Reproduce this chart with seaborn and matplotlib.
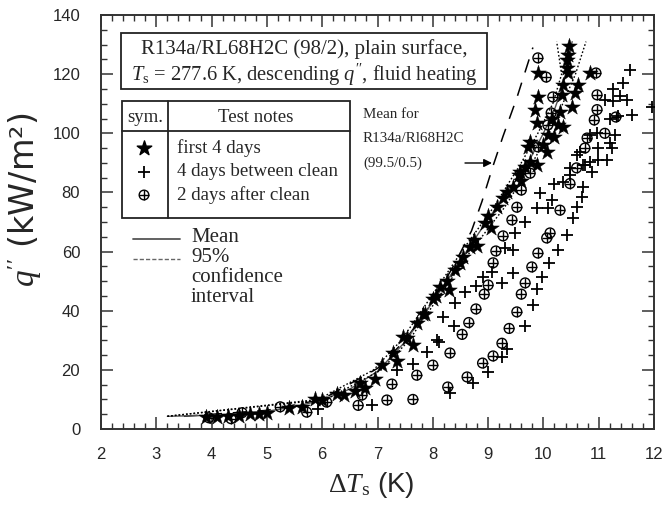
import numpy as np
import pandas as pd
import matplotlib
matplotlib.use("Agg")
import matplotlib.pyplot as plt
import seaborn as sns
from matplotlib.ticker import MultipleLocator

# ---------------- data ----------------
star_x = [3.9, 4.1, 4.3, 4.5, 4.7, 4.85, 5.0, 5.4, 5.63, 5.87, 6.0, 6.27, 6.4, 6.6, 6.68, 6.78,
          6.95, 7.08, 7.28, 7.35, 7.53, 7.65, 7.71, 7.86, 8.0,
          7.46, 7.82, 8.13, 8.4, 8.67, 8.94, 9.16, 9.27, 9.45, 9.67, 9.72,
          8.05, 8.25, 8.3, 8.5, 8.55, 8.75, 8.8, 9.0, 9.05, 9.35, 9.55, 9.6,
          10.46, 10.43, 10.43, 10.45, 10.36, 10.63, 10.57, 9.9, 9.9, 9.85, 9.88, 10.34,
          10.52, 10.3, 10.26, 10.36, 10.84, 9.76, 10.08, 10.2, 10.06, 9.76, 9.88, 9.58,
          10.0, 10.15, 10.45]
star_y = [4.0, 4.0, 4.5, 4.5, 5.0, 5.0, 5.5, 7.0, 7.5, 10.0, 9.7, 12.0, 11.5, 13.0, 15.5, 14.0,
          17.0, 21.6, 25.6, 23.0, 30.8, 28.5, 35.8, 39.0, 44.0,
          31.0, 39.0, 48.0, 53.8, 61.5, 69.7, 75.0, 78.0, 82.0, 88.6, 95.4,
          45.0, 50.0, 47.0, 56.0, 58.0, 64.0, 62.0, 72.0, 68.0, 80.0, 86.0, 84.0,
          129.5, 124.8, 122.0, 120.4, 116.3, 116.3, 113.6, 120.4, 112.3, 108.0, 103.5, 113.0,
          109.0, 107.2, 102.8, 102.0, 120.4, 97.0, 99.4, 98.7, 93.6, 90.3, 89.3, 87.0,
          96.0, 105.0, 126.5]

plus_x = [5.93, 6.9,
          7.35, 7.64, 7.9, 8.07, 8.11, 8.18, 8.38, 8.4, 8.58, 8.78, 8.9, 9.07, 9.25, 9.45,
          9.3, 9.45, 9.49, 9.67, 9.88, 10.08, 9.94, 10.15, 10.2, 10.35, 10.48, 10.48,
          8.31, 8.72, 9.0, 9.26, 9.35, 9.67, 9.81, 9.88, 9.97, 10.1, 10.26, 10.42, 10.53,
          10.6, 10.7, 10.72, 10.6, 10.72, 10.84, 10.99, 10.66, 10.97, 10.84, 10.75, 10.88,
          11.15, 10.99, 11.24, 11.2, 11.29, 11.11, 11.2, 11.35, 11.6, 11.51, 11.39, 11.26,
          11.26, 11.44, 11.57, 11.96]
plus_y = [6.8, 8.0,
          20.0, 22.0, 26.0, 30.0, 29.4, 37.9, 34.8, 42.6, 46.4, 48.4, 51.4, 53.1, 49.4, 52.7,
          61.2, 60.5, 66.3, 70.0, 74.7, 74.7, 79.8, 77.4, 83.0, 83.5, 86.0, 88.3,
          12.2, 15.6, 19.3, 24.4, 27.0, 35.0, 42.0, 47.3, 51.4, 56.0, 60.5, 65.6, 71.3,
          75.0, 78.5, 82.0, 92.7, 89.3, 90.3, 91.0, 93.7, 100.0, 99.4, 89.3, 87.0,
          91.0, 95.0, 95.0, 96.7, 99.4, 111.3, 105.0, 106.0, 106.2, 111.3, 112.6, 111.0,
          115.0, 117.0, 121.4, 108.9]

oplus_x = [3.95, 4.35, 4.55, 5.24, 5.72, 6.08, 6.65, 6.72, 7.17, 7.26, 7.64, 7.71, 8.0,
           8.27, 8.62, 8.9, 9.09, 9.25, 9.38, 9.52, 9.6, 9.67, 9.79, 9.9, 10.06, 10.12, 10.3,
           10.48, 10.6, 10.75, 10.79, 10.92, 10.97, 10.97, 10.95, 11.11, 11.31,
           8.31, 8.53, 8.65, 8.78, 8.93, 9.0, 9.09, 9.14, 9.27, 9.43, 9.52, 9.6, 9.76, 9.9,
           10.08, 10.14, 10.17, 10.05, 9.9]
oplus_y = [3.8, 3.5, 5.5, 7.5, 5.7, 9.1, 8.0, 11.5, 9.8, 15.2, 10.0, 18.2, 21.6,
           14.2, 17.6, 22.3, 24.7, 29.0, 34.0, 39.6, 45.6, 49.4, 54.8, 59.5, 64.6, 66.3, 74.0,
           83.0, 88.3, 95.0, 98.4, 104.5, 108.0, 113.0, 120.4, 100.0, 105.5,
           25.7, 32.0, 36.0, 40.6, 45.6, 48.7, 56.2, 60.2, 65.3, 70.7, 75.0, 80.8, 86.5, 95.4,
           102.8, 106.9, 112.3, 119.0, 125.5]

# mean curve and 95% confidence interval (parametrised by q'')
mean_x = [3.2, 4.0, 4.5, 5.0, 5.5, 6.0, 6.5, 7.0, 7.5, 8.0, 8.5, 9.0, 9.5, 9.75, 10.0, 10.2, 10.35, 10.45, 10.52]
mean_y = [4.3, 4.6, 5.2, 6.0, 7.5, 9.8, 13.5, 19.5, 29.5, 43.0, 57.0, 71.0, 84.0, 91.0, 100.0, 108.0, 116.0, 124.0, 131.0]
ci_q = [4.3, 10.0, 20.0, 30.0, 45.0, 60.0, 75.0, 90.0, 100.0, 110.0, 120.0, 131.0]
ci_lo_x = [3.2, 5.93, 6.93, 7.43, 7.98, 8.52, 9.1, 9.6, 9.9, 10.17, 10.33, 10.24]
ci_hi_x = [3.2, 6.07, 7.07, 7.57, 8.12, 8.68, 9.3, 9.8, 10.1, 10.35, 10.58, 10.77]
# mean for R134a/RL68H2C (99.5/0.5)
ref_x = [3.5, 5.0, 6.0, 7.0, 7.5, 8.0, 8.4, 8.7, 8.89, 9.09, 9.27, 9.52, 9.81]
ref_y = [4.3, 6.3, 10.0, 20.5, 30.0, 43.0, 56.0, 67.0, 77.0, 89.0, 99.0, 112.0, 129.0]

# ---------------- style ----------------
sns.set_theme(style="ticks")
plt.rcParams["font.family"] = ["Liberation Sans", "DejaVu Sans"]
plt.rcParams["mathtext.fontset"] = "custom"
plt.rcParams["mathtext.rm"] = "Liberation Serif"
plt.rcParams["mathtext.it"] = "Liberation Serif:italic"
plt.rcParams["mathtext.bf"] = "Liberation Serif:bold"

fig = plt.figure(figsize=(6.65, 5.05), dpi=100)
ax = fig.add_axes([101 / 665, 76 / 505, 553 / 665, 414 / 505])

# lines
sns.lineplot(x=ref_x, y=ref_y, sort=False, ax=ax, color="black", lw=1.1,
             dashes=False, zorder=1).lines[-1].set_dashes([9, 7])
sns.lineplot(x=mean_x, y=mean_y, sort=False, ax=ax, color="#555555", lw=1.0, zorder=1)
sns.lineplot(x=ci_lo_x, y=ci_q, sort=False, ax=ax, color="black", lw=1.0, zorder=1,
             linestyle=(0, (1.2, 1.5)))
sns.lineplot(x=ci_hi_x, y=ci_q, sort=False, ax=ax, color="black", lw=1.0, zorder=1,
             linestyle=(0, (1.2, 1.5)))

# points
sns.scatterplot(x=oplus_x, y=oplus_y, ax=ax, marker="o", s=50, facecolors="none",
                edgecolors="black", linewidths=1.0, zorder=3)
sns.scatterplot(x=oplus_x, y=oplus_y, ax=ax, marker="+", s=50, color="black",
                linewidths=1.0, zorder=3)
sns.scatterplot(x=plus_x, y=plus_y, ax=ax, marker="+", s=75, color="black",
                linewidths=1.3, zorder=3)
sns.scatterplot(x=star_x, y=star_y, ax=ax, marker="*", s=140, color="black",
                edgecolor="black", linewidth=0.3, zorder=4)

# axes
ax.set_xlim(2, 12)
ax.set_ylim(0, 140)
ax.xaxis.set_major_locator(MultipleLocator(1))
ax.xaxis.set_minor_locator(MultipleLocator(0.2))
ax.yaxis.set_major_locator(MultipleLocator(20))
ax.yaxis.set_minor_locator(MultipleLocator(5))
ax.tick_params(which="both", direction="in", top=True, right=True, color="#333333")
ax.tick_params(which="major", length=8.5, width=1.1)
ax.tick_params(which="minor", length=4.3, width=1.0)
ax.tick_params(axis="x", which="major", pad=13, labelsize=12)
ax.tick_params(axis="y", which="major", pad=15, labelsize=12)
for sp in ax.spines.values():
    sp.set_linewidth(1.4)
    sp.set_color("#333333")

ax.set_xlabel(r"$\Delta\mathit{T}_{\mathrm{s}}$ (K)", fontsize=20)
ax.set_ylabel(r"$q''$ (kW/m²)", fontsize=24, family=["DejaVu Sans"])
ax.xaxis.set_label_coords(0.488, -0.1)
ax.yaxis.set_label_coords(-0.103, 0.553)

def A(px, py):
    return ((px - 101) / 553, (429 - py) / 414)

serif = "Liberation Serif"
T = ax.transAxes

# title box
x0, y1 = A(121, 33)
x1, y0 = A(487, 89)
ax.add_patch(plt.Rectangle((x0, y0), x1 - x0, y1 - y0, transform=T, fill=False,
                           lw=1.3, ec="#222222", zorder=5))
cx, _ = A(304, 0)
ax.text(cx, A(0, 49)[1], "R134a/RL68H2C (98/2), plain surface,", transform=T,
        ha="center", va="center", family=serif, fontsize=15, zorder=6)
ax.text(cx, A(0, 75)[1], r"$T_{\mathrm{s}}$ = 277.6 K, descending $q''$, fluid heating",
        transform=T, ha="center", va="center", family=serif, fontsize=14.8, zorder=6)

# legend table
tx0, ty1 = A(122, 101)
tx1, ty0 = A(350, 218)
ax.add_patch(plt.Rectangle((tx0, ty0), tx1 - tx0, ty1 - ty0, transform=T, fill=False,
                           lw=1.3, ec="#222222", zorder=5))
dx, _ = A(168, 0)
_, hy = A(0, 131)
ax.plot([dx, dx], [ty0, ty1], transform=T, color="#222222", lw=1.3, zorder=5)
ax.plot([tx0, tx1], [hy, hy], transform=T, color="#222222", lw=1.3, zorder=5)
ax.text(A(145, 0)[0], A(0, 117)[1], "sym.", transform=T, ha="center", va="center",
        family=serif, fontsize=13.5, zorder=6)
ax.text(A(256, 0)[0], A(0, 117)[1], "Test notes", transform=T, ha="center", va="center",
        family=serif, fontsize=13.5, zorder=6)
sx, _ = A(144, 0)
rows = [148, 172, 195]
labels = ["first 4 days", "4 days between clean", "2 days after clean"]
for py, lab in zip(rows, labels):
    ax.text(A(177, 0)[0], A(0, py)[1], lab, transform=T, ha="left", va="center",
            family=serif, fontsize=13.6, zorder=6)
ax.scatter([sx], [A(0, rows[0])[1]], transform=T, marker="*", s=120, color="black", zorder=6)
ax.scatter([sx], [A(0, rows[1])[1]], transform=T, marker="+", s=65, color="black",
           linewidths=1.3, zorder=6)
ax.scatter([sx], [A(0, rows[2])[1]], transform=T, marker="o", s=48, facecolors="none",
           edgecolors="black", linewidths=1.0, zorder=6)
ax.scatter([sx], [A(0, rows[2])[1]], transform=T, marker="+", s=48, color="black",
           linewidths=1.0, zorder=6)

# line legend
lx0, ly = A(133, 239)
lx1, ly2 = A(180, 259)
ax.plot([lx0, lx1], [ly, ly], transform=T, color="#555555", lw=1.3, zorder=6)
ax.plot([lx0, lx1], [ly2, ly2], transform=T, color="#666666", lw=1.0,
        linestyle=(0, (3, 1.5)), zorder=6)
for py, lab in zip([238, 258, 278, 297], ["Mean", "95%", "confidence", "interval"]):
    ax.text(A(191, 0)[0], A(0, py)[1], lab, transform=T, ha="left", va="center",
            family=serif, fontsize=15, zorder=6)

# annotation
for py, lab in zip([114, 138, 163], ["Mean for", "R134a/Rl68H2C", "(99.5/0.5)"]):
    ax.text(A(363, 0)[0], A(0, py)[1], lab, transform=T, ha="left", va="center",
            family=serif, fontsize=10.8, zorder=6)
ax.annotate("", xy=A(492, 163), xytext=A(465, 163), xycoords=T, textcoords=T,
            arrowprops=dict(arrowstyle="-|>", color="black", lw=1.0,
                            mutation_scale=12, shrinkA=0, shrinkB=0), zorder=6)

fig.savefig("out.png", dpi=100)
